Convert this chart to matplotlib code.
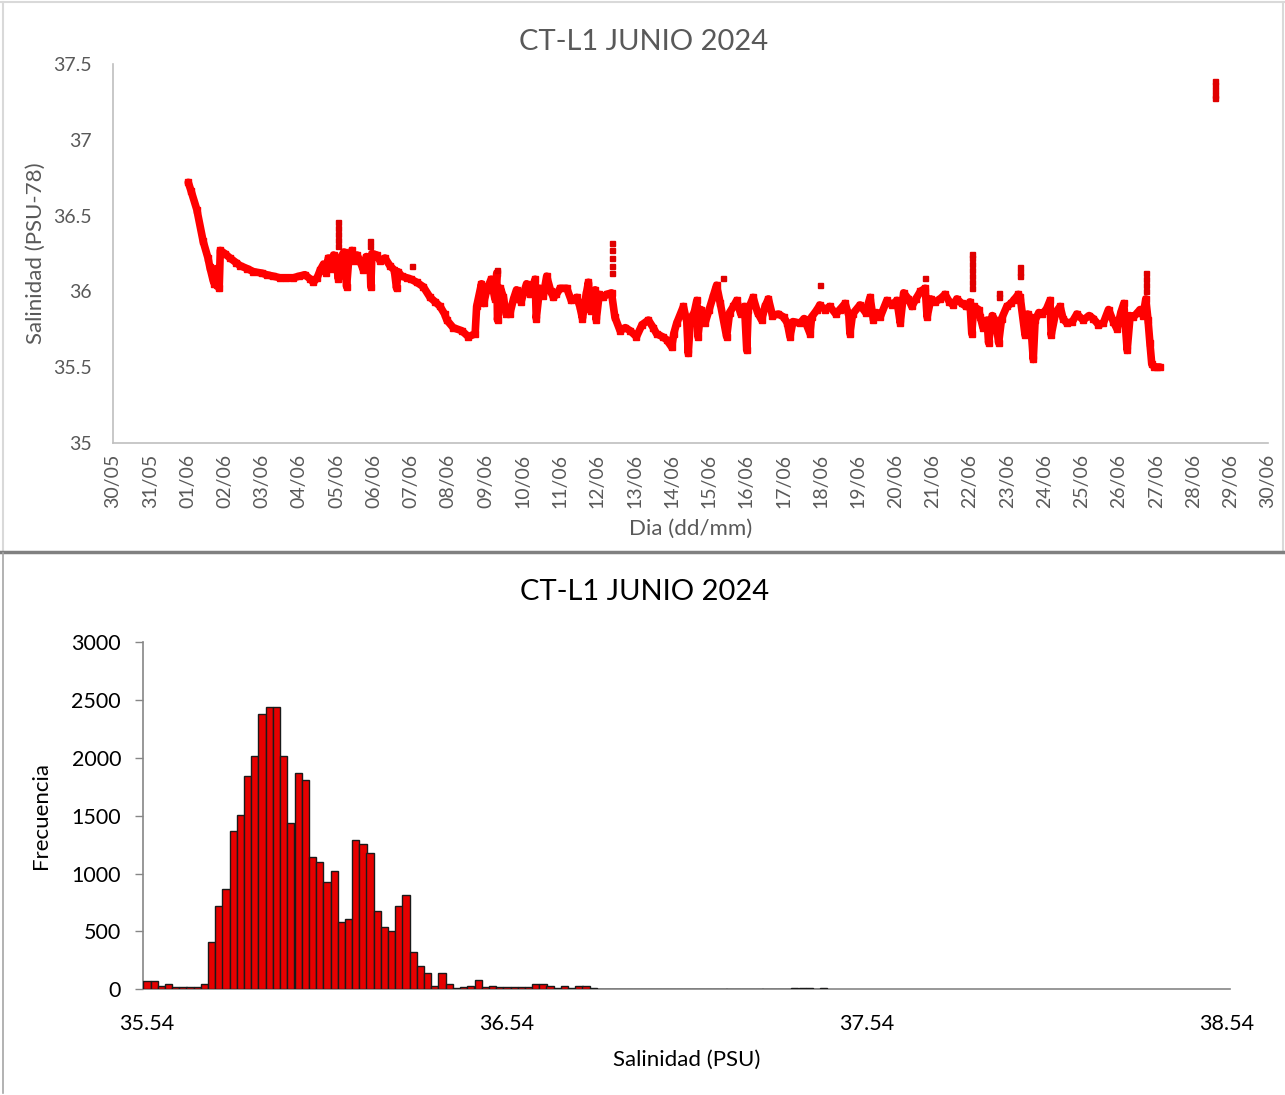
import numpy as np
import pandas as pd
import matplotlib
matplotlib.use("Agg")
import matplotlib.pyplot as plt
import matplotlib.dates as mdates
from matplotlib.lines import Line2D

plt.rcParams['font.family'] = ['Lato', 'DejaVu Sans']

# ---------------- data: time series (day of June, salinity PSU) ----------------
dia = [1.02, 1.10, 1.25, 1.42, 1.55, 1.60, 1.68, 1.72, 1.76, 1.79, 1.85,
       1.88, 2.00, 2.14, 2.30, 2.41, 2.60, 2.77, 3.00, 3.12, 3.30, 3.48, 3.65, 3.84,
       4.00, 4.15, 4.30, 4.38, 4.48, 4.56, 4.65, 4.72, 4.78, 4.85, 4.92, 5.00, 5.05,
       5.10, 5.20, 5.27, 5.33, 5.41, 5.48, 5.55, 5.63, 5.72, 5.80, 5.90, 5.92, 5.95,
       6.08, 6.17, 6.30, 6.43, 6.55, 6.61, 6.65, 6.75, 6.88, 7.00, 7.15, 7.33, 7.51,
       7.65, 7.78, 7.90, 7.96, 8.13, 8.36, 8.54, 8.72, 8.76, 8.89, 8.95, 9.03, 9.15,
       9.25, 9.30, 9.32, 9.40, 9.48, 9.55, 9.65, 9.75, 9.83, 9.95, 10.10, 10.20,
       10.33, 10.36, 10.45, 10.55, 10.64, 10.75, 10.82, 10.90, 11.00, 11.18, 11.30,
       11.45, 11.53, 11.60, 11.70, 11.76, 11.82, 11.94, 11.97, 12.05, 12.16, 12.25,
       12.38, 12.47, 12.61, 12.75, 12.88, 13.05, 13.20, 13.37, 13.50, 13.59, 13.75,
       13.86, 14.00, 14.05, 14.13, 14.31, 14.40, 14.44, 14.50, 14.60, 14.67, 14.70,
       14.78, 14.89, 15.00, 15.10, 15.20, 15.30, 15.47, 15.55, 15.65, 15.74, 15.85,
       15.95, 16.01, 16.05, 16.18, 16.30, 16.41, 16.50, 16.59, 16.70, 16.86, 17.00,
       17.10, 17.17, 17.25, 17.44, 17.55, 17.71, 17.75, 17.90, 17.97, 18.10, 18.24,
       18.40, 18.51, 18.65, 18.75, 18.78, 18.85, 19.05, 19.20, 19.32, 19.41, 19.50,
       19.59, 19.77, 19.90, 20.04, 20.13, 20.22, 20.35, 20.44, 20.55, 20.67, 20.80,
       20.85, 20.95, 21.06, 21.20, 21.33, 21.45, 21.55, 21.65, 21.78, 21.90, 22.00,
       22.05, 22.10, 22.23, 22.28, 22.35, 22.46, 22.50, 22.60, 22.70, 22.77, 22.85,
       22.99, 23.10, 23.17, 23.30, 23.35, 23.48, 23.55, 23.62, 23.70, 23.75, 23.85,
       23.93, 24.05, 24.15, 24.18, 24.30, 24.42, 24.50, 24.60, 24.75, 24.87, 25.04,
       25.20, 25.31, 25.45, 25.58, 25.72, 25.85, 25.95, 26.05, 26.13, 26.22, 26.30,
       26.39, 26.50, 26.57, 26.65, 26.72, 26.78, 26.83, 26.88, 26.95, 27.01, 27.10]
salinidad = [36.72, 36.66, 36.54, 36.33, 36.22, 36.16, 36.08, 36.05, 36.15, 36.04, 36.02,
             36.27, 36.25, 36.22, 36.19, 36.17, 36.15, 36.13, 36.12, 36.11, 36.10, 36.09, 36.09, 36.09,
             36.10, 36.11, 36.08, 36.06, 36.09, 36.14, 36.18, 36.12, 36.22, 36.15, 36.24, 36.18, 36.08,
             36.22, 36.26, 36.03, 36.22, 36.27, 36.20, 36.24, 36.20, 36.14, 36.23, 36.20, 36.03, 36.25,
             36.24, 36.20, 36.22, 36.17, 36.14, 36.02, 36.13, 36.10, 36.09, 36.08, 36.06, 36.03, 35.96,
             35.93, 35.90, 35.85, 35.81, 35.76, 35.74, 35.70, 35.72, 35.90, 36.05, 35.92, 36.01, 36.08,
             35.95, 36.12, 35.81, 36.02, 35.96, 35.85, 35.85, 35.95, 36.01, 35.93, 36.05, 35.98,
             36.08, 35.82, 36.02, 35.97, 36.10, 36.00, 35.96, 35.98, 36.02, 36.02, 35.94,
             35.96, 35.90, 35.82, 35.98, 36.06, 35.87, 36.01, 35.81, 35.98, 35.96, 35.98,
             35.99, 35.83, 35.74, 35.76, 35.74, 35.70, 35.78, 35.81, 35.76, 35.72, 35.70,
             35.68, 35.63, 35.72, 35.79, 35.90, 35.80, 35.59, 35.82, 35.86, 35.94, 35.70,
             35.88, 35.79, 35.88, 35.96, 36.04, 35.92, 35.70, 35.86, 35.90, 35.94, 35.85,
             35.90, 35.61, 35.88, 35.96, 35.86, 35.81, 35.90, 35.95, 35.84, 35.85, 35.83,
             35.79, 35.70, 35.80, 35.79, 35.82, 35.72, 35.83, 35.88, 35.91, 35.88, 35.90,
             35.85, 35.88, 35.92, 35.84, 35.72, 35.85, 35.91, 35.86, 35.96, 35.81, 35.86,
             35.83, 35.94, 35.91, 35.94, 35.79, 35.99, 35.95, 35.90, 35.95, 36.00, 36.02,
             35.83, 35.95, 35.93, 35.95, 35.98, 35.93, 35.91, 35.95, 35.92, 35.90, 35.93,
             35.72, 35.90, 35.88, 35.83, 35.76, 35.81, 35.66, 35.84, 35.80, 35.66, 35.82,
             35.90, 35.92, 35.94, 35.98, 35.96, 35.71, 35.85, 35.83, 35.55, 35.81, 35.86,
             35.85, 35.88, 35.94, 35.71, 35.86, 35.90, 35.82, 35.79, 35.80, 35.85, 35.81,
             35.84, 35.82, 35.78, 35.79, 35.88, 35.80, 35.75, 35.86, 35.92, 35.61, 35.84,
             35.83, 35.86, 35.88, 35.84, 35.95, 35.81, 35.66, 35.52, 35.50, 35.50, 35.50]

# isolated readings (spikes / outliers)
dia_aislados = [5.05, 5.05, 5.05, 5.05, 5.05, 5.90, 5.90, 7.02, 9.30,
                12.38, 12.38, 12.38, 12.38, 12.38, 15.38, 17.97, 20.80,
                22.05, 22.05, 22.05, 22.05, 22.05, 22.05, 22.05, 22.77, 22.77,
                23.35, 23.35, 23.35, 26.72, 26.72, 26.72, 26.72,
                28.58, 28.58, 28.58, 28.58, 28.58]
sal_aislados = [36.46, 36.42, 36.38, 36.34, 36.30, 36.33, 36.30, 36.17, 36.14,
                36.32, 36.27, 36.22, 36.17, 36.12, 36.09, 36.04, 36.09,
                36.25, 36.22, 36.18, 36.14, 36.10, 36.06, 36.02, 35.99, 35.96,
                36.16, 36.13, 36.10, 36.12, 36.08, 36.04, 36.00,
                37.39, 37.36, 37.33, 37.30, 37.28]

# ---------------- data: histogram (bins of 0.02 PSU starting at 35.53) ----------------
inicio_clases = 35.53
ancho_clase = 0.02
frecuencia = [75, 75, 29, 46, 23, 23, 23, 23, 46, 411,
              721, 865, 1371, 1509, 1848, 2015, 2377, 2440, 2440, 2015,
              1437, 1871, 1813, 1147, 1101, 928, 1023, 581, 612, 1290,
              1259, 1181, 675, 535, 500, 724, 819, 319, 201, 144,
              29, 138, 46, 14, 17, 29, 83, 17, 29, 23,
              23, 23, 23, 23, 46, 46, 29, 14, 29, 14,
              29, 29, 14, 0, 0, 0, 0, 0, 0, 0,
              0, 0, 0, 0, 0, 0, 0, 0, 0, 0,
              0, 0, 0, 0, 0, 0, 0, 0, 0, 0,
              14, 14, 14, 0, 10]
ticks_hist = [35.54, 36.54, 37.54, 38.54]
titulo = "CT-L1 JUNIO 2024"

# ---------------- figure ----------------
W, H = 1285, 1095
fig = plt.figure(figsize=(W / 100, H / 100), dpi=100)
fig.patch.set_facecolor('white')

def fx(px):
    return px / W

def fy(py):
    return 1 - py / H

grey_txt = '#595959'
axis_grey = '#BFBFBF'

# ---- top panel ----
ax1 = fig.add_axes([fx(113), fy(442.7), fx(1268) - fx(113), fy(64.3) - fy(442.7)])
base = pd.Timestamp('2024-05-31')
t = base + pd.to_timedelta(dia, unit='D')
t_ais = base + pd.to_timedelta(dia_aislados, unit='D')
ax1.plot(t, salinidad, '-', color='#FF0000', lw=5.5, solid_joinstyle='round',
         solid_capstyle='round', zorder=3)
ax1.plot(t, salinidad, 's', color='#FF0000', ms=4.2, zorder=3)
ax1.plot(t_ais, sal_aislados, 's', color='#E00000', ms=3.6, ls='none', zorder=3)

ax1.set_xlim(pd.Timestamp('2024-05-30'), pd.Timestamp('2024-06-30'))
ax1.set_ylim(35, 37.5)
ax1.set_yticks([35, 35.5, 36, 36.5, 37, 37.5])
ax1.set_yticklabels(['35', '35.5', '36', '36.5', '37', '37.5'])
ax1.xaxis.set_major_locator(mdates.DayLocator())
ax1.xaxis.set_major_formatter(mdates.DateFormatter('%d/%m'))
for lab in ax1.get_xticklabels():
    lab.set_rotation(90)
ax1.tick_params(axis='x', labelsize=14, colors=grey_txt, length=0, pad=8)
ax1.tick_params(axis='y', labelsize=14, colors=grey_txt, length=0, pad=15)
for s in ['top', 'right']:
    ax1.spines[s].set_visible(False)
for s in ['left', 'bottom']:
    ax1.spines[s].set_color(axis_grey)
    ax1.spines[s].set_linewidth(1.2)
ax1.set_ylabel('Salinidad (PSU-78)', fontsize=16, color=grey_txt)
ax1.yaxis.set_label_coords(-0.058, 0.5)
ax1.set_xlabel('Dia (dd/mm)', fontsize=16, color=grey_txt)
ax1.xaxis.set_label_coords(0.5, -0.2)
fig.text(fx(644), fy(42), titulo, ha='center', va='center', fontsize=21, color=grey_txt)

# ---- bottom panel ----
ax2 = fig.add_axes([fx(143.3), fy(989.3), fx(1230.5) - fx(143.3), fy(642.3) - fy(989.3)])
izq = inicio_clases + ancho_clase * np.arange(len(frecuencia))
ax2.bar(izq, frecuencia, width=ancho_clase, align='edge', color='#E60000',
        edgecolor='#1a1a1a', linewidth=1.0, zorder=3)
ax2.set_xlim(35.53, 38.55)
ax2.set_ylim(0, 3000)
ax2.set_yticks(np.arange(0, 3001, 500))
ax2.set_xticks(ticks_hist)
ax2.set_xticklabels([f'{v:.2f}' for v in ticks_hist])
ax2.tick_params(axis='x', labelsize=15.5, colors='black', length=0, pad=18)
ax2.tick_params(axis='y', labelsize=15.5, colors='black', length=6, width=1, pad=10)
ax2.tick_params(axis='y', color='#868686')
for s in ['top', 'right']:
    ax2.spines[s].set_visible(False)
for s in ['left', 'bottom']:
    ax2.spines[s].set_color('#868686')
    ax2.spines[s].set_linewidth(1.2)
ax2.set_ylabel('Frecuencia', fontsize=16, color='black')
ax2.yaxis.set_label_coords(-0.085, 0.5)
ax2.set_xlabel('Salinidad (PSU)', fontsize=16, color='black')
ax2.xaxis.set_label_coords(0.5, -0.175)
fig.text(fx(645), fy(592), titulo, ha='center', va='center', fontsize=21, color='black')

# ---- panel borders ----
fig.add_artist(Line2D([0, 1], [fy(2), fy(2)], transform=fig.transFigure, color='#D9D9D9', lw=1.5))
fig.add_artist(Line2D([fx(3), fx(3)], [fy(2), fy(550)], transform=fig.transFigure, color='#D9D9D9', lw=1.5))
fig.add_artist(Line2D([fx(1283), fx(1283)], [fy(2), fy(550)], transform=fig.transFigure, color='#D9D9D9', lw=1.5))
fig.add_artist(Line2D([0, 1], [fy(552), fy(552)], transform=fig.transFigure, color='#808080', lw=2.5))
fig.add_artist(Line2D([fx(3), fx(3)], [fy(553), fy(1093)], transform=fig.transFigure, color='#A6A6A6', lw=1.2))

fig.savefig('out.png', dpi=100, facecolor='white')
